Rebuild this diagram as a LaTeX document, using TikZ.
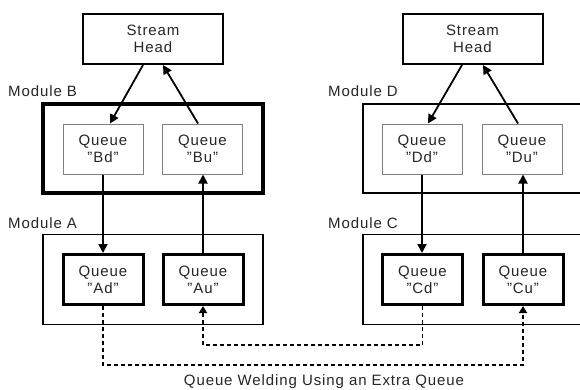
\documentclass[tikz,border=0pt]{standalone}
\usepackage{fontspec}
\setmainfont{Liberation Sans}[LetterSpace=6]
\usetikzlibrary{positioning,arrows.meta}

\tikzset{
  txt/.style={font=\fontsize{15}{17}\selectfont, text=black!85},
  headbox/.style={draw, line width=2pt, minimum width=140pt, minimum height=50pt, inner sep=0pt, align=center, txt},
  qthin/.style={draw=black!50, line width=1pt, minimum width=80pt, minimum height=50pt, inner sep=0pt, align=center, txt},
  qthick/.style={draw, line width=3pt, minimum width=80pt, minimum height=50pt, inner sep=0pt, align=center, txt},
  modthin/.style={draw, line width=1.3pt, minimum height=90pt, inner sep=0pt},
  modthick/.style={draw, line width=3.5pt, minimum height=89pt, inner sep=0pt},
  modlabel/.style={anchor=base west, inner sep=0pt, txt},
  arr/.style={-{Triangle[length=9pt,width=9pt]}, line width=1.8pt},
  weld/.style={-{Triangle[length=7pt,width=8pt]}, line width=1.8pt, dash pattern=on 4pt off 3pt}
}

\begin{document}
\begin{tikzpicture}[x=1pt,y=-1pt]
\clip (0,0) rectangle (580,389);

% stream heads
\node[headbox] (headL) at (153,39) {Stream\\Head};
\node[headbox] (headR) at (472.5,39) {Stream\\Head};

% upper modules
\node[modthick, minimum width=220pt] (modB) at (153,148.5) {};
\node[modthin, minimum width=237pt, minimum height=89pt] (modD) at (481.5,148.5) {};
\node[modlabel] (labB) at (8,96) {Module B};
\node[modlabel] (labD) at (328,96) {Module D};
\node[qthin] (Bd) at (103,149) {Queue\\"Bd"};
\node[qthin] (Bu) at (202.5,149) {Queue\\"Bu"};
\node[qthin] (Dd) at (422,149) {Queue\\"Dd"};
\node[qthin] (Du) at (522,149) {Queue\\"Du"};

% lower modules
\node[modthin, minimum width=220pt] (modA) at (153,279.5) {};
\node[modthin, minimum width=237pt] (modC) at (481.5,279.5) {};
\node[modlabel] (labA) at (8,228) {Module A};
\node[modlabel] (labC) at (328,228) {Module C};
\node[qthick] (Ad) at (103,279.5) {Queue\\"Ad"};
\node[qthick] (Au) at (203,279.5) {Queue\\"Au"};
\node[qthick] (Cd) at (422.5,279.5) {Queue\\"Cd"};
\node[qthick] (Cu) at (523,279.5) {Queue\\"Cu"};

% stream head <-> upper queues
\draw[arr] ([xshift=-10pt]headL.south) -- ([xshift=7pt]Bd.north);
\draw[arr] ([xshift=-4.5pt]Bu.north) -- ([xshift=10pt]headL.south);
\draw[arr] ([xshift=-10.5pt]headR.south) -- ([xshift=6pt]Dd.north);
\draw[arr] ([xshift=-4pt]Du.north) -- ([xshift=10.5pt]headR.south);

% upper <-> lower queues
\draw[arr] (Bd.south) -- (Bd.south |- Ad.north);
\draw[arr] (Au.north) -- (Au.north |- Bu.south);
\draw[arr] (Dd.south) -- (Dd.south |- Cd.north);
\draw[arr] (Cu.north) -- (Cu.north |- Du.south);

% welding
\draw[weld] (Ad.south) -- ++(0,59) -| (Cu.south);
\draw[weld] (Cd.south) -- ++(0,39) -| (Au.south);

\node[txt, inner sep=0pt] (caption) at (324,382) {Queue Welding Using an Extra Queue};
\end{tikzpicture}
\end{document}
